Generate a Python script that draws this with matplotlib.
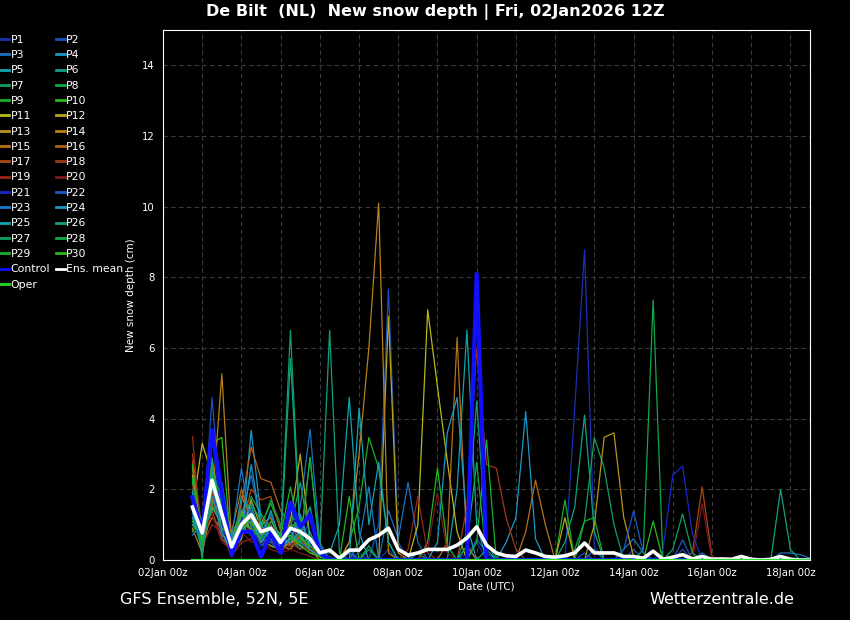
import pandas as pd
import matplotlib
matplotlib.use("Agg")
import matplotlib.pyplot as plt
import matplotlib.dates as mdates

# 6-hourly steps from the 02Jan2026 12Z run
times = pd.date_range("2026-01-02 18:00", periods=64, freq="6h")
tick_days = ["2026-01-02", "2026-01-04", "2026-01-06", "2026-01-08", "2026-01-10",
             "2026-01-12", "2026-01-14", "2026-01-16", "2026-01-18"]
tick_labels = ["02Jan 00z", "04Jan 00z", "06Jan 00z", "08Jan 00z", "10Jan 00z",
               "12Jan 00z", "14Jan 00z", "16Jan 00z", "18Jan 00z"]

members = {
    "P1": [1.2, 0.3, 2.5, 1.0, 0.2, 1.5, 0.8, 0.5, 1.0, 0.3, 0.6, 0.4, 1.2, 0.2,
           0.1, 0, 0, 0.2, 0, 0, 0.3, 0, 0.1, 0, 0, 0, 0, 0, 0.2, 0.5, 0, 0, 0, 0,
           0, 0, 0, 0.1, 0, 4.3, 8.78, 0.4, 0, 0, 0.1, 0, 0, 0, 0, 0.1,
           0, 0, 0, 0, 0, 0, 0, 0, 0, 0, 0, 0, 0, 0],
    "P2": [1.8, 0.5, 4.6, 1.2, 0.1, 1.0, 1.6, 0.4, 0.7, 0.2, 1.4, 0.6, 0.3, 0.1,
           0, 0, 0.3, 0, 0, 1.0, 7.67, 0.5, 0, 0, 0, 0, 0, 0, 0, 0.6, 0.2, 0, 0, 0,
           0, 0, 0, 0, 0, 0, 0.2, 0, 0, 0, 0, 0.3, 0, 0, 0, 0,
           0.3, 0, 0, 0, 0, 0, 0, 0, 0, 0, 0, 0, 0, 0],
    "P3": [1.5, 0.8, 2.0, 0.6, 0.3, 1.2, 2.4, 1.0, 0.6, 0.8, 0.4, 1.5, 3.7, 0.5,
           0, 0, 0.2, 0, 0, 0, 1.4, 0.6, 2.2, 0.5, 0, 0, 0, 0, 0.4, 0, 0, 0, 0, 0,
           0, 0, 0, 0, 0, 0, 0, 0.3, 0, 0, 0.3, 0.6, 0.2, 0, 0, 0,
           0, 0, 0.2, 0, 0, 0, 0, 0, 0, 0, 0.2, 0.2, 0.15, 0.05],
    "P4": [1.0, 0.6, 1.8, 0.9, 0.5, 0.7, 3.67, 1.2, 0.8, 0.4, 0.6, 0.3, 0.8, 0.1,
           0, 0, 0, 0, 0, 0, 0, 0, 0, 0.2, 0, 0, 0, 0, 0, 0, 0, 0, 0.5, 1.2,
           4.2, 0.6, 0, 0, 0, 0, 0, 0, 0, 0, 0, 0, 0, 0, 0, 0,
           0, 0, 0, 0, 0, 0, 0, 0, 0, 0, 0, 0, 0, 0],
    "P5": [2.0, 0.2, 2.8, 1.5, 0.2, 1.8, 1.2, 0.6, 1.4, 0.5, 1.0, 0.9, 0.4, 0.2,
           0.2, 1.0, 4.6, 0.8, 0, 0, 0, 0, 0, 0, 0, 0, 0, 2.0, 6.5, 1.0, 0, 0, 0, 0,
           0, 0, 0, 0, 0, 0, 0, 0, 0, 0, 0, 0, 0, 0, 0, 0,
           0, 0, 0, 0, 0, 0, 0, 0, 0, 0, 0, 0, 0, 0],
    "P6": [1.3, 0.4, 1.6, 2.2, 0.6, 0.9, 1.5, 0.8, 1.0, 0.3, 1.2, 1.1, 0.5, 0.3,
           6.5, 0.2, 0, 0, 0.3, 0, 0, 0, 0, 0, 0, 0, 0, 0, 0, 0, 0.3, 0, 0, 0,
           0, 0, 0, 0, 0.5, 1.5, 4.1, 0.8, 0, 0, 0, 0, 0, 0, 0, 0,
           0, 0, 0, 0, 0, 0, 0, 0, 0, 0, 2.0, 0.3, 0, 0],
    "P7": [1.6, 0.9, 2.2, 0.8, 0.1, 1.3, 1.0, 0.7, 0.5, 0.6, 6.5, 0.8, 0.2, 0.1,
           0, 0, 0, 0, 0.4, 0, 0, 0, 0, 0, 0, 0, 0, 0, 0, 0, 0, 0, 0, 0,
           0, 0, 0, 0, 0, 0.3, 1.1, 3.47, 2.6, 1.0, 0, 0, 0, 0, 0, 0,
           0, 0, 0, 0, 0, 0, 0, 0, 0, 0, 0, 0, 0, 0],
    "P8": [2.2, 0.0, 2.9, 1.0, 0.4, 0.6, 1.8, 1.3, 0.9, 0.2, 0.7, 0.5, 0.6, 0.4,
           0, 0, 0, 0, 0, 0, 0, 0, 0, 0, 0, 0, 0, 0, 0, 0, 0, 0, 0, 0,
           0, 0, 0, 0, 0, 0, 0, 0, 0, 0, 0, 0, 0.3, 7.36, 0, 0,
           0, 0, 0, 0, 0, 0, 0, 0, 0, 0, 0, 0, 0, 0],
    "P9": [0.8, 1.2, 1.9, 1.7, 0.3, 1.0, 0.7, 1.0, 1.6, 0.9, 0.8, 0.4, 2.9, 0.2,
           0, 0, 0.5, 1.5, 3.47, 2.6, 0.5, 0, 0, 0, 0, 0, 0, 0, 0, 0, 0, 0, 0, 0,
           0, 0, 0, 0, 1.7, 0, 0, 0, 0, 0, 0, 0, 0, 0, 0, 0,
           0, 0, 0, 0, 0, 0, 0, 0, 0, 0, 0, 0, 0, 0],
    "P10": [1.1, 0.5, 3.3, 3.47, 0.2, 0.8, 1.1, 0.4, 0.6, 0.7, 0.9, 1.2, 0.3, 0.1,
            0, 0, 0, 0, 0, 0, 0, 0, 0, 0, 0.5, 2.6, 0.4, 0, 0, 0, 0, 0, 0, 0,
            0, 0, 0, 0, 0, 0, 0, 0, 0, 0, 0, 0, 0, 0, 0, 0,
            0, 0, 0, 0, 0, 0, 0, 0, 0, 0, 0, 0, 0, 0],
    "P11": [1.4, 3.3, 2.4, 0.7, 0.5, 1.1, 0.9, 0.6, 0.4, 0.3, 0.5, 0.6, 0.4, 0.2,
            0, 0, 0, 0, 0, 0, 0, 0, 0, 1.0, 7.08, 4.9, 2.8, 0.8, 0, 0, 0, 0, 0, 0,
            0, 0, 0, 0, 0, 0, 0, 0, 0, 0, 0, 0, 0, 0, 0, 0,
            0, 0, 0, 0, 0, 0, 0, 0, 0, 0, 0, 0, 0, 0],
    "P12": [2.4, 0.7, 1.5, 1.0, 0.2, 0.6, 1.7, 0.9, 0.7, 0.5, 1.1, 3.0, 0.6, 0.2,
            0, 0, 0, 0, 0, 0, 6.9, 0.2, 0, 0, 0, 0, 0, 0, 0, 0, 0, 0, 0, 0,
            0, 0, 0, 0, 1.2, 0, 0, 0, 0, 0, 0, 0, 0, 0, 0, 0,
            0, 0, 0, 0, 0, 0, 0, 0, 0, 0, 0, 0, 0, 0],
    "P13": [1.7, 0.4, 2.1, 1.3, 0.6, 1.4, 0.8, 1.0, 1.2, 0.4, 0.3, 0.7, 0.2, 0.1,
            0, 0, 0, 0, 0, 0, 0, 0, 0, 0, 0, 0, 0, 0, 0, 0, 0, 0, 0, 0,
            0, 0, 0, 0, 0, 0, 0, 1.0, 3.47, 3.6, 1.2, 0.1, 0, 0, 0, 0,
            0, 0, 0, 0, 0, 0, 0, 0, 0, 0, 0, 0, 0, 0],
    "P14": [0.9, 0.2, 1.5, 5.27, 0.5, 0.7, 1.4, 0.5, 0.6, 0.2, 0.6, 0.4, 0.3, 0.0,
            0, 0, 0.5, 3.0, 6.0, 10.1, 0.2, 0, 0, 0, 0, 0, 0, 0, 0, 0, 0, 0, 0, 0,
            0, 0, 0, 0, 0, 0, 0, 0, 0, 0, 0, 0, 0, 0, 0, 0,
            0, 0, 0, 0, 0, 0, 0, 0, 0, 0, 0, 0, 0, 0],
    "P15": [2.6, 0.6, 1.2, 0.9, 0.8, 2.0, 1.1, 0.7, 0.9, 0.6, 0.4, 0.9, 0.5, 0.3,
            0, 0, 0, 0, 0, 0, 0, 0, 0, 0, 0, 0, 0.5, 6.3, 0.4, 0, 0, 0, 0, 0,
            0.8, 2.26, 1.0, 0, 0, 0, 0, 0, 0, 0, 0, 0, 0, 0, 0, 0,
            0, 0, 0, 0, 0, 0, 0, 0, 0, 0, 0, 0, 0, 0],
    "P16": [1.9, 0.9, 1.7, 1.1, 0.4, 1.6, 3.2, 2.3, 2.2, 1.4, 1.0, 0.5, 0.4, 0.2,
            0.3, 0, 0, 0, 0, 0, 0, 0, 0, 0, 0, 0, 0, 0, 0, 0, 0, 0, 0, 0,
            0, 0, 0, 0, 0, 0, 0, 0, 0, 0, 0, 0, 0, 0, 0, 0,
            0, 0, 0, 0, 0, 0, 0, 0, 0, 0, 0, 0, 0, 0],
    "P17": [2.8, 0.5, 1.4, 0.6, 0.3, 0.9, 2.0, 1.7, 1.8, 0.8, 0.6, 0.7, 0.3, 0.2,
            0, 0, 0, 0, 0, 0, 0, 0, 0, 0, 0, 0, 0, 0, 0, 0, 0, 0, 0, 0,
            0, 0, 0, 0, 0, 0, 0, 0, 0, 0, 0, 0, 0, 0, 0, 0,
            0, 0.2, 2.07, 0.1, 0, 0, 0, 0, 0, 0, 0, 0, 0, 0],
    "P18": [3.0, 0.8, 1.9, 1.2, 0.2, 1.1, 0.8, 1.2, 1.0, 0.4, 0.5, 0.3, 0.4, 0.1,
            0, 0, 0, 0, 0, 0, 0, 0, 0, 0, 0, 0, 0, 0, 1.5, 6.0, 2.7, 2.6, 1.2, 0.3,
            0, 0, 0, 0, 0, 0, 0, 0, 0, 0, 0, 0, 0, 0, 0, 0,
            0, 0, 0, 0, 0, 0, 0, 0, 0, 0, 0, 0, 0, 0],
    "P19": [3.5, 0.4, 1.0, 0.8, 0.1, 0.5, 0.6, 0.9, 0.7, 0.3, 0.4, 0.6, 0.2, 0.1,
            0, 0, 0, 0, 0, 0, 0, 0, 0.3, 1.8, 0.2, 0, 0, 0, 0, 0, 0, 0, 0, 0,
            0, 0, 0, 0, 0, 0, 0, 0, 0, 0, 0, 0, 0, 0, 0, 0,
            0, 0, 0, 0, 0, 0, 0, 0, 0, 0, 0, 0, 0, 0],
    "P20": [2.1, 0.7, 1.3, 0.5, 0.3, 0.8, 0.5, 0.6, 0.3, 0.2, 0.3, 0.2, 0.1, 0.0,
            0, 0, 0, 0, 0, 0, 0, 0, 0, 0, 0.3, 1.9, 0.2, 0, 0, 0, 0, 0, 0, 0,
            0, 0, 0, 0, 0, 0, 0, 0, 0, 0, 0, 0, 0, 0, 0, 0,
            0, 0, 1.6, 0, 0, 0, 0, 0, 0, 0, 0, 0, 0, 0],
    "P21": [1.3, 0.6, 3.6, 1.0, 0.2, 1.2, 1.0, 0.4, 0.8, 0.5, 0.7, 0.9, 0.5, 0.1,
            0, 0, 0, 0, 0, 0, 0, 0, 0, 0, 0, 0, 0, 0, 0, 0, 0, 0, 0, 0,
            0, 0, 0, 0, 0, 0, 0, 0, 0, 0, 0, 0, 0, 0, 0.3, 2.4,
            2.66, 0.75, 0, 0, 0, 0, 0, 0, 0, 0, 0, 0, 0, 0],
    "P22": [1.6, 0.3, 2.3, 0.7, 0.4, 0.9, 1.4, 0.6, 0.5, 0.2, 1.6, 1.0, 0.6, 0.2,
            0, 0, 0, 0, 0, 0, 0, 0, 0, 0, 0, 0, 0, 0, 0, 0, 0, 0, 0, 0,
            0, 0, 0, 0, 0, 0, 0, 0, 0, 0, 0.3, 1.38, 0.2, 0, 0, 0,
            0.57, 0, 0, 0, 0, 0, 0, 0, 0, 0, 0, 0, 0, 0],
    "P23": [0.7, 1.0, 1.8, 1.4, 0.6, 2.6, 0.9, 0.7, 1.3, 0.4, 0.8, 0.5, 0.3, 0.1,
            0, 0, 0, 0.5, 2.07, 0, 0, 0, 0, 0, 0, 0, 0, 0, 0, 0, 0, 0, 0, 0,
            0, 0, 0, 0, 0, 0, 0, 0, 0, 0, 0, 0, 0, 0, 0, 0,
            0, 0, 0, 0, 0, 0, 0, 0, 0, 0, 0, 0, 0, 0],
    "P24": [1.2, 0.4, 2.6, 0.8, 0.2, 0.8, 2.7, 1.0, 0.6, 0.3, 0.6, 1.3, 0.4, 0.2,
            0, 0, 0, 0, 0, 0, 0, 0, 0, 0, 0, 0.5, 3.6, 4.6, 1.0, 0, 0, 0, 0, 0,
            0, 0, 0, 0, 0, 0, 0, 0, 0, 0, 0, 0, 0, 0, 0, 0,
            0, 0, 0, 0, 0, 0, 0, 0, 0, 0, 0, 0, 0, 0],
    "P25": [1.9, 0.8, 1.4, 1.6, 0.5, 1.3, 1.2, 0.5, 0.9, 0.6, 0.5, 0.8, 1.5, 0.2,
            0, 0, 0, 4.3, 1.0, 2.77, 0.5, 0, 0, 0, 0, 0, 0, 0, 0, 0, 0, 0, 0, 0,
            0, 0, 0, 0, 0, 0, 0, 0, 0, 0, 0, 0, 0, 0, 0, 0,
            0, 0, 0, 0, 0, 0, 0, 0, 0, 0, 0, 0, 0, 0],
    "P26": [1.4, 0.2, 2.0, 1.3, 0.3, 1.0, 0.7, 0.8, 0.6, 0.4, 5.7, 0.7, 0.3, 0.1,
            0, 0, 0, 0, 0, 0, 0, 0, 0, 0, 0, 0, 0, 0, 0.8, 4.5, 0.5, 0, 0, 0,
            0, 0, 0, 0, 0, 0, 0, 0, 0, 0, 0, 0, 0, 0, 0, 0,
            0, 0, 0, 0, 0, 0, 0, 0, 0, 0, 0, 0, 0, 0],
    "P27": [1.0, 0.6, 1.6, 0.9, 0.7, 1.4, 1.6, 1.1, 0.8, 0.5, 0.9, 2.2, 0.6, 0.2,
            0, 0, 0, 0, 0, 0, 0, 0, 0, 0, 0, 0, 0, 0, 0, 0, 0, 0, 0, 0,
            0, 0, 0, 0, 0, 0, 0, 0, 0, 0, 0, 0, 0, 0, 0, 0.3,
            1.3, 0.2, 0, 0, 0, 0, 0, 0, 0, 0, 0, 0, 0, 0],
    "P28": [2.3, 0.3, 2.4, 1.8, 0.2, 0.7, 1.3, 0.9, 1.7, 1.0, 0.6, 0.5, 2.9, 0.3,
            0, 0, 0, 0, 0, 0, 0, 0, 0, 0, 0, 0, 0, 0, 0.4, 2.77, 0, 0, 0, 0,
            0, 0, 0, 0, 0, 0, 0, 0, 0, 0, 0, 0, 0, 0, 0, 0,
            0, 0, 0, 0, 0, 0, 0, 0, 0, 0, 0, 0, 0, 0],
    "P29": [1.7, 1.1, 2.7, 1.2, 0.4, 1.0, 0.9, 0.6, 1.1, 0.7, 2.07, 0.6, 0.4, 0.2,
            0, 0, 0, 0, 0, 0, 0, 0, 0, 0, 0, 0, 0, 0, 0, 0.5, 3.4, 0, 0, 0,
            0, 0, 0, 0, 0, 0, 1.1, 1.2, 0, 0, 0, 0, 0, 0, 0, 0,
            0, 0, 0, 0, 0, 0, 0, 0, 0, 0, 0, 0, 0, 0],
    "P30": [2.7, 0.5, 2.2, 1.5, 0.3, 1.3, 1.0, 0.8, 0.9, 0.6, 0.7, 0.4, 0.2, 0.1,
            0, 0, 1.8, 0, 0, 0, 0, 0, 0, 0, 0, 0, 0, 0, 0, 0, 0, 0, 0, 0,
            0, 0, 0, 0, 0, 0, 0, 0, 0, 0, 0, 0, 0, 1.1, 0, 0,
            0, 0, 0, 0, 0, 0, 0, 0, 0, 0, 0, 0, 0, 0],
}

control = [1.78, 0.76, 3.67, 1.9, 0.15, 0.8, 0.8, 0.1, 0.75, 0.2, 1.63, 0.94, 1.28, 0.2,
           0, 0, 0, 0, 0, 0, 0, 0, 0, 0, 0, 0, 0, 0, 0, 8.1, 0, 0, 0, 0,
           0, 0, 0, 0, 0, 0, 0, 0, 0, 0, 0, 0, 0, 0, 0, 0,
           0, 0, 0, 0, 0, 0, 0, 0, 0, 0, 0, 0, 0, 0]

ens_mean = [1.5, 0.76, 2.26, 1.3, 0.37, 1.0, 1.28, 0.8, 0.9, 0.5, 0.9, 0.8, 0.6, 0.2,
            0.28, 0.05, 0.28, 0.28, 0.57, 0.7, 0.9, 0.3, 0.14, 0.2, 0.3, 0.3, 0.3, 0.42,
            0.62, 0.94, 0.42, 0.2, 0.12, 0.1, 0.28, 0.2, 0.1, 0.08, 0.12, 0.2, 0.48, 0.2,
            0.2, 0.2, 0.1, 0.1, 0.05, 0.25, 0.02, 0.08, 0.15, 0.03, 0.1, 0.02, 0.03, 0.02,
            0.1, 0.02, 0, 0.02, 0.1, 0.02, 0, 0]

oper = [0] * 64

colors = ["#1a30b4", "#1a50c0", "#1a70c0", "#1a98c8", "#10a4b0", "#10a080",
          "#10a060", "#10a848", "#18b028", "#28b818", "#b8b818", "#b8a418",
          "#b89418", "#b88018", "#b87018", "#b06018", "#a84818", "#a03818",
          "#982818", "#801818",
          "#1a28c8", "#1a58c8", "#1a78c8", "#1a98c8", "#10a4b0", "#10a080",
          "#10a060", "#10a848", "#18b028", "#28b818"]

plt.rcParams["font.family"] = "DejaVu Sans"
fig = plt.figure(figsize=(8.5, 6.2), dpi=100, facecolor="black")
ax = fig.add_axes([163 / 850, 60 / 620, 647 / 850, 530 / 620], facecolor="black")

handles = {}
for (name, vals), c in zip(members.items(), colors):
    handles[name], = ax.plot(times, vals, color=c, lw=0.9, label=name)
handles["Control"], = ax.plot(times, control, color="#1010ff", lw=3, label="Control")
handles["Ens. mean"], = ax.plot(times, ens_mean, color="white", lw=2.6, label="Ens. mean")
handles["Oper"], = ax.plot(times, oper, color="#22dd22", lw=1.6, label="Oper")

ax.set_xlim(pd.Timestamp("2026-01-02 00:00"), pd.Timestamp("2026-01-18 12:00"))
ax.set_ylim(0, 15)
ax.set_yticks(range(0, 15, 2))
ax.set_xticks(pd.to_datetime(tick_days))
ax.set_xticklabels(tick_labels)
ax.xaxis.set_minor_locator(mdates.DayLocator())
ax.grid(True, which="both", color="#3a3a3a", ls=(0, (4, 3)), lw=0.8)
ax.tick_params(colors="white", labelsize=7.3, length=0, pad=6)
ax.tick_params(which="minor", length=0)
for s in ax.spines.values():
    s.set_color("white")
ax.set_ylabel("New snow depth (cm)", color="white", fontsize=7.5)
ax.set_xlabel("Date (UTC)", color="white", fontsize=7.5, labelpad=2)

fig.text(0.512, 0.98, "De Bilt  (NL)  New snow depth | Fri, 02Jan2026 12Z",
         color="white", fontsize=11.5, fontweight="bold", ha="center", va="center")
fig.text(120 / 850, 1 - 599 / 620, "GFS Ensemble, 52N, 5E", color="white",
         fontsize=11.5, va="center")
fig.text(794 / 850, 1 - 599 / 620, "Wetterzentrale.de", color="white",
         fontsize=11.5, va="center", ha="right")

# legend filled column-wise: odd members, Control, Oper | even members, Ens. mean
col1 = ["P%d" % i for i in range(1, 31, 2)] + ["Control", "Oper"]
col2 = ["P%d" % i for i in range(2, 31, 2)] + ["Ens. mean"]
order = col1 + col2
leg = fig.legend([handles[n] for n in order], order, ncol=2, loc="upper left",
                 bbox_to_anchor=(-0.005, 0.951), frameon=False, fontsize=7.8,
                 handlelength=0.8, handletextpad=0.15, labelspacing=0.49,
                 columnspacing=0.55, borderaxespad=0)
for t in leg.get_texts():
    t.set_color("white")
for h in leg.legend_handles:
    h.set_linewidth(2)

fig.savefig("out.png", dpi=100, facecolor="black")
